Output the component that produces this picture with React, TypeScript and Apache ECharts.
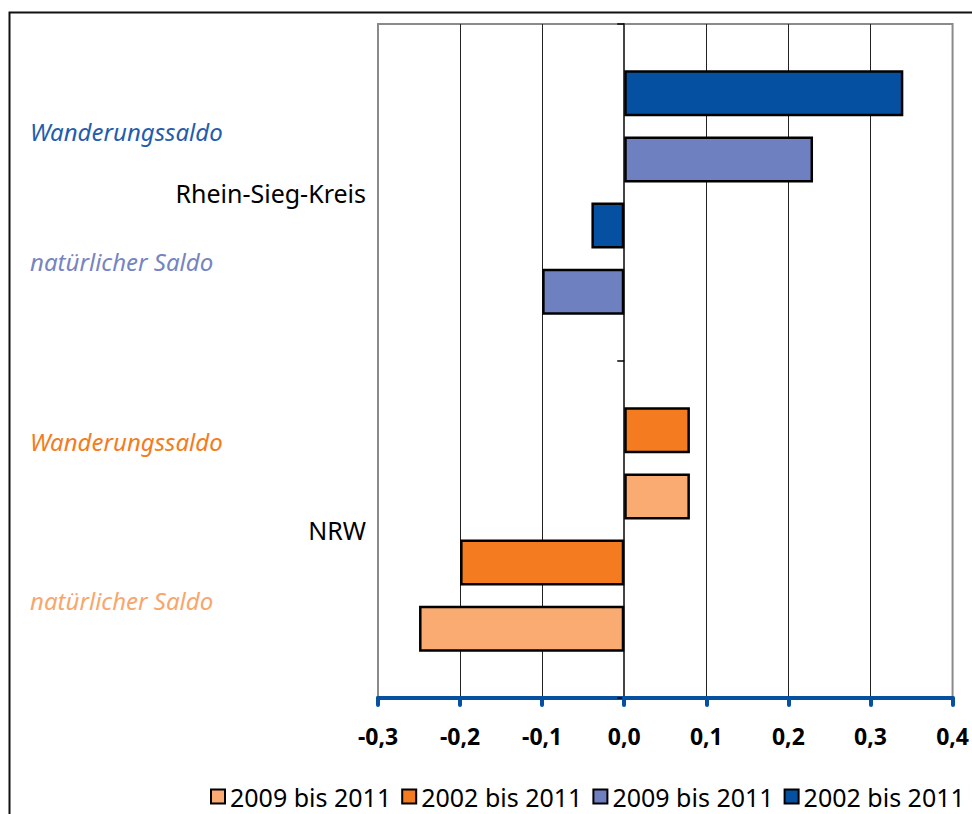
import React, { useEffect, useRef } from "react";
import * as echarts from "echarts";

const categories = ["Rhein-Sieg-Kreis", "NRW"];
const wanderung2002 = [0.34, 0.08];
const wanderung2009 = [0.23, 0.08];
const natuerlich2002 = [-0.04, -0.2];
const natuerlich2009 = [-0.1, -0.25];

const darkColors = ["#0550A1", "#F47B20"];
const lightColors = ["#6F80C1", "#F9AB71"];

const legendNames = ["2009 bis 2011", "2002 bis 2011", "2009 bis 2011", "2002 bis 2011"];
const legendColors = ["#F9AB71", "#F47B20", "#6F80C1", "#0550A1"];

const sideLabels = [
  { text: "Wanderungssaldo", y: 131, color: "#1F5DB0" },
  { text: "natürlicher Saldo", y: 261, color: "#7683C4" },
  { text: "Wanderungssaldo", y: 441, color: "#F47B20" },
  { text: "natürlicher Saldo", y: 600, color: "#F9A66B" },
];

const FONT = "'Noto Sans', 'Open Sans', sans-serif";

function mkSeries(name: string, values: number[], colors: string[]) {
  return {
    name,
    type: "bar",
    yAxisIndex: 0,
    barWidth: 46,
    barGap: "44%",
    data: values.map((v, i) => ({
      value: v,
      itemStyle: { color: colors[i] },
    })),
    itemStyle: { borderColor: "#000", borderWidth: 2.5 },
    silent: true,
  };
}

export default function App() {
  const ref = useRef<HTMLDivElement>(null);
  useEffect(() => {
    if (!ref.current) return;
    const chart = echarts.init(ref.current, null, { renderer: "svg" });
    const legendIds = legendNames.map((n, i) => `L${i}|${n}`);
    const option: any = {
      animation: false,
      backgroundColor: "#fff",
      grid: {
        left: 378,
        right: 19,
        top: 24,
        bottom: 116,
        show: true,
        borderColor: "#8a8a8a",
        borderWidth: 2,
        backgroundColor: "transparent",
      },
      xAxis: {
        type: "value",
        min: -0.3,
        max: 0.4,
        interval: 0.1,
        axisLine: { show: true, onZero: false, lineStyle: { color: "#0550A1", width: 4 } },
        axisTick: {
          show: true,
          length: 7,
          lineStyle: { color: "#0550A1", width: 4, cap: "round" },
        },
        axisLabel: {
          fontFamily: FONT,
          fontSize: 23,
          fontWeight: "bold",
          color: "#000",
          margin: 26,
          formatter: (v: number) => v.toFixed(1).replace(".", ","),
        },
        splitLine: {
          show: true,
          lineStyle: {
            color: ["transparent", "#222", "#222", "#222", "#222", "#222", "#222", "transparent"],
            width: 1,
          },
        },
      },
      yAxis: [
        {
          type: "category",
          data: categories,
          inverse: true,
          axisLine: { show: false, onZero: false },
          axisTick: { show: false },
          splitLine: { show: false },
          axisLabel: {
            fontFamily: FONT,
            fontSize: 25,
            color: "#000",
            margin: 12,
          },
        },
        {
          type: "category",
          data: categories,
          inverse: true,
          position: "left",
          axisLine: { show: true, onZero: true, lineStyle: { color: "#444", width: 2 } },
          axisTick: { show: true, length: 7, lineStyle: { color: "#000", width: 1.5 } },
          axisLabel: { show: false },
          splitLine: { show: false },
        },
      ],
      legend: {
        left: 210,
        top: 784,
        width: 820,
        padding: 0,
        itemWidth: 14,
        itemHeight: 14,
        itemGap: 10,
        icon: "rect",
        textStyle: {
          fontFamily: FONT,
          fontSize: 25,
          color: "#000",
        },
        formatter: (name: string) => name.split("|")[1],
        data: legendIds.map((id, i) => ({
          name: id,
          icon: "rect",
          itemStyle: { color: legendColors[i], borderColor: "#000", borderWidth: 2 },
        })),
        selectedMode: false,
      },
      graphic: [
        {
          type: "rect",
          shape: { x: 9.5, y: 12.5, width: 1000, height: 900 },
          style: { fill: "none", stroke: "#111", lineWidth: 2 },
          silent: true,
          z: -1,
        },
        ...sideLabels.map((l) => ({
          type: "text",
          x: 30,
          y: l.y,
          style: {
            text: l.text,
            fill: l.color,
            font: `italic 24px ${FONT}`,
            verticalAlign: "middle",
          },
          silent: true,
        })),
      ],
      series: [
        mkSeries("w2002", wanderung2002, darkColors),
        mkSeries("w2009", wanderung2009, lightColors),
        mkSeries("n2002", natuerlich2002, darkColors),
        mkSeries("n2009", natuerlich2009, lightColors),
        ...legendIds.map((id, i) => ({
          name: id,
          type: "line",
          data: [],
          itemStyle: { color: legendColors[i] },
        })),
      ],
    };
    chart.setOption(option);
    return () => chart.dispose();
  }, []);
  return (
    <div
      ref={ref}
      style={{ position: "fixed", left: 0, top: 0, width: 972, height: 814 }}
    />
  );
}
